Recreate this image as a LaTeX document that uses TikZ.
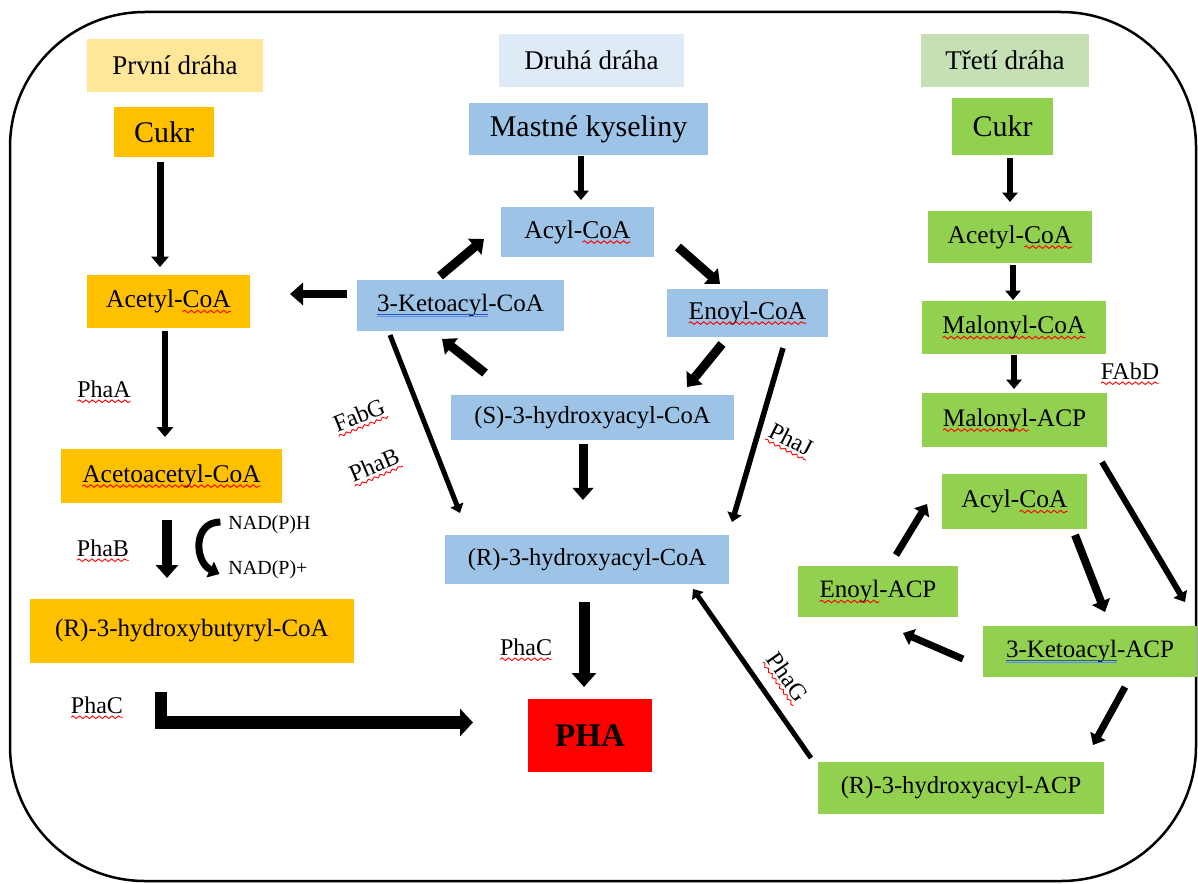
\documentclass[tikz,border=0pt]{standalone}
\usepackage{fontspec}
\setmainfont{Liberation Serif}
\usetikzlibrary{arrows.meta,decorations.pathmorphing,calc}
\definecolor{hY}{HTML}{FFE699}
\definecolor{oY}{HTML}{FFC000}
\definecolor{hB}{HTML}{DEEBF7}
\definecolor{bB}{HTML}{9DC3E6}
\definecolor{hG}{HTML}{C5E0B4}
\definecolor{gG}{HTML}{92D050}
\definecolor{rR}{HTML}{FF0000}
\definecolor{ulA}{RGB}{40,80,200}
\definecolor{ulB}{RGB}{90,140,225}
\newcommand\fsz[1]{\fontsize{#1}{#1}\selectfont}
\newcommand\wavy[1]{\tikz[baseline=(wvn.base)]{\node[inner sep=0pt,outer sep=0pt,minimum width=0pt,minimum height=0pt](wvn){#1};\draw[overlay,red,line width=0.9pt,decorate,decoration={snake,amplitude=1.3pt,segment length=6.5pt}]([yshift=-4pt]wvn.base west)--([yshift=-4pt]wvn.base east);}}
\newcommand\blueul[1]{\tikz[baseline=(bun.base)]{\node[inner sep=0pt,outer sep=0pt,minimum width=0pt,minimum height=0pt](bun){#1};\draw[overlay,line width=0.8pt,ulA]([yshift=-2.5pt]bun.base west)--([yshift=-2.5pt]bun.base east);\draw[overlay,line width=0.8pt,ulB]([yshift=-4.5pt]bun.base west)--([yshift=-4.5pt]bun.base east);}}
\tikzset{
  bx/.style={inner sep=0pt,outer sep=0pt,text=black,font=\fsz{25.5}},
  hdr/.style={inner sep=0pt,outer sep=0pt,text=black,font=\fsz{27}},
  lbl/.style={inner sep=0pt,outer sep=0pt,text=black,font=\fsz{24}},
  arr/.style={line width=#1,-{Triangle[length=4pt 0.9,width=5pt 1.7]}},
  arr/.default=6pt
}
\begin{document}
\begin{tikzpicture}[x=1pt,y=-1pt]
\useasboundingbox (0,0) rectangle (1198,883);
\draw[line width=2.5pt,rounded corners=135pt] (10,12) rectangle (1196,881);
% first pathway
\node[hdr,fill=hY,minimum width=176pt,minimum height=53pt] (h1) at (175,65.5) {První dráha};
\node[bx,fill=oY,minimum width=100pt,minimum height=50pt,font=\fsz{30}] (cukr1) at (164,132) {Cukr};
\node[bx,fill=oY,minimum width=163pt,minimum height=53pt] (acetyl1) at (168.5,301.5) {Acetyl-\wavy{CoA}};
\node[bx,fill=oY,minimum width=221pt,minimum height=54pt] (acac) at (171.5,476) {\wavy{Acetoacetyl-CoA}};
\node[bx,fill=oY,minimum width=324pt,minimum height=64pt,font=\fsz{25}] (hb) at (192,631) {(R)-3-hydroxybutyryl-CoA};
\node[inner sep=0pt,outer sep=0pt,fill=rR,minimum width=124pt,minimum height=73pt,font=\fsz{33}\bfseries] (pha) at (590,735.5) {PHA};
% second pathway
\node[hdr,fill=hB,minimum width=185pt,minimum height=53pt] (h2) at (591.5,60.5) {Druhá dráha};
\node[bx,fill=bB,minimum width=239pt,minimum height=52pt,font=\fsz{30}] (mastne) at (588.5,129) {Mastné kyseliny};
\node[bx,fill=bB,minimum width=153pt,minimum height=50pt] (acyl2) at (577.5,232) {Acyl-\wavy{CoA}};
\node[bx,fill=bB,minimum width=207pt,minimum height=51pt,font=\fsz{25}] (keto2) at (460.5,305.5) {\blueul{3-Ketoacyl}-CoA};
\node[bx,fill=bB,minimum width=161pt,minimum height=48pt] (enoyl2) at (747.5,313) {\wavy{Enoyl-CoA}};
\node[bx,fill=bB,minimum width=283pt,minimum height=45pt,font=\fsz{24.6}] (s3h) at (592.5,417.5) {(S)-3-hydroxyacyl-CoA};
\node[bx,fill=bB,minimum width=284pt,minimum height=49pt,font=\fsz{24.5}] (r3h) at (587,559.5) {(R)-3-hydroxyacyl-CoA};
% third pathway
\node[hdr,fill=hG,minimum width=168pt,minimum height=53pt] (h3) at (1005,60.5) {Třetí dráha};
\node[bx,fill=gG,minimum width=101pt,minimum height=57pt,font=\fsz{30}] (cukr3) at (1002.5,126.5) {Cukr};
\node[bx,fill=gG,minimum width=164pt,minimum height=52pt] (acetyl3) at (1010,237) {Acetyl-\wavy{CoA}};
\node[bx,fill=gG,minimum width=184pt,minimum height=53pt] (malcoa) at (1014,327.5) {\wavy{Malonyl-CoA}};
\node[bx,fill=gG,minimum width=185pt,minimum height=54pt,font=\fsz{25.3}] (malacp) at (1014.5,420) {\wavy{Malonyl}-ACP};
\node[bx,fill=gG,minimum width=145pt,minimum height=55pt] (acyl3) at (1014.5,501.5) {Acyl-\wavy{CoA}};
\node[bx,fill=gG,minimum width=160pt,minimum height=51pt,font=\fsz{25}] (enoylacp) at (878,591.5) {\wavy{Enoyl}-ACP};
\node[bx,fill=gG,minimum width=214pt,minimum height=51pt,font=\fsz{25}] (ketoacp) at (1090,651.5) {\blueul{3-Ketoacyl}-ACP};
\node[bx,fill=gG,minimum width=286pt,minimum height=52pt,font=\fsz{24.6}] (racp) at (961,788) {(R)-3-hydroxyacyl-ACP};
% enzyme labels
\node[lbl] (phaA) at (104,389) {\wavy{PhaA}};
\node[lbl] (phaB1) at (103,548) {\wavy{PhaB}};
\node[lbl] (phaC1) at (97,705) {\wavy{PhaC}};
\node[lbl,font=\fsz{20}] (nadh) at (269.5,525) {NAD(P)H};
\node[lbl,font=\fsz{20}] (nadp) at (268,570) {NAD(P)+};
\node[lbl] (phaC2) at (526,647) {\wavy{PhaC}};
\node[lbl,rotate=22] (fabg) at (359,415) {\wavy{FabG}};
\node[lbl,rotate=23] (phaB2) at (374,465) {\wavy{PhaB}};
\node[lbl,rotate=-27] (phaJ) at (791,439) {\wavy{PhaJ}};
\node[lbl,rotate=-55] (phaG) at (788,677) {\wavy{PhaG}};
\node[lbl] (fabd) at (1130,371) {\wavy{FAbD}};
% arrows, first pathway
\draw[arr=7pt] ([shift={(-4,5)}]cukr1.south) -- ([shift={(-8.5,-8)}]acetyl1.north);
\draw[arr=6.5pt] ([shift={(-3.5,3)}]acetyl1.south) -- ([shift={(-6.5,-12)}]acac.north);
\draw[arr=10pt] ([shift={(-4.5,17)}]acac.south) -- ([shift={(-25,-21)}]hb.north);
\draw[arr=7pt] ([shift={(-8,-3)}]nadh.west) .. controls +(-28,0) and +(-25,-12) .. ([shift={(-9,4)}]nadp.west);
\draw[line width=12.5pt,-{Triangle[length=13pt,width=27pt]}] ([shift={(-31,29)}]hb.south) |- ([shift={(-55,-13)}]pha.west);
% arrows, second pathway
\draw[arr=6pt] ([shift={(-7.5,1)}]mastne.south) -- ([shift={(3.5,-7)}]acyl2.north);
\draw[arr=9pt] ([shift={(24,15)}]acyl2.east) -- ([shift={(-27.5,-5)}]enoyl2.north);
\draw[arr=9pt] ([shift={(-20.5,-4)}]keto2.north) -- ([shift={(-17,7)}]acyl2.west);
\draw[line width=8pt,-{Triangle[length=13pt,width=22pt]}] ([shift={(-10,-11.5)}]keto2.west) -- ([shift={(40,-7.5)}]acetyl1.east);
\draw[arr=9pt] ([shift={(-107.5,-22)}]s3h.north) -- ([shift={(-18.5,8)}]keto2.south);
\draw[arr=9pt] ([shift={(-25.5,7)}]enoyl2.south) -- ([shift={(94.5,-8)}]s3h.north);
\draw[arr=9pt] ([shift={(-9.5,4)}]s3h.south) -- ([shift={(-4,-35)}]r3h.north);
\draw[arr=5pt] ([shift={(-70.5,4)}]keto2.south) -- ([shift={(-127,-22)}]r3h.north);
\draw[arr=5.5pt] ([shift={(35.5,11)}]enoyl2.south) -- ([shift={(145,-13)}]r3h.north);
\draw[arr=11pt] ([shift={(-3,18)}]r3h.south) -- ([shift={(-6,-12)}]pha.north);
% arrows, third pathway
\draw[arr=6pt] ([shift={(7.5,3)}]cukr3.south) -- ([shift={(0,-9)}]acetyl3.north);
\draw[arr=6pt] ([shift={(3,2)}]acetyl3.south) -- ([shift={(-1,-1)}]malcoa.north);
\draw[arr=6pt] ([shift={(0,0.5)}]malcoa.south) -- ([shift={(-0.5,-4)}]malacp.north);
\draw[arr=6pt] ([shift={(87.5,15)}]malacp.south) -- ([shift={(95,-24)}]ketoacp.north);
\draw[arr=8pt] ([shift={(60.5,6)}]acyl3.south) -- ([shift={(15,-14)}]ketoacp.north);
\draw[arr=7pt] ([shift={(18,-11)}]enoylacp.north) -- ([shift={(-15,2.5)}]acyl3.west);
\draw[arr=7pt] ([shift={(-20,7.5)}]ketoacp.west) -- ([shift={(25,16)}]enoylacp.south);
\draw[arr=7pt] ([shift={(35,10)}]ketoacp.south) -- ([shift={(132,-17)}]racp.north);
\draw[arr=5pt] ([shift={(-150,-4)}]racp.north) -- ([shift={(106,5)}]r3h.south);
\end{tikzpicture}
\end{document}
